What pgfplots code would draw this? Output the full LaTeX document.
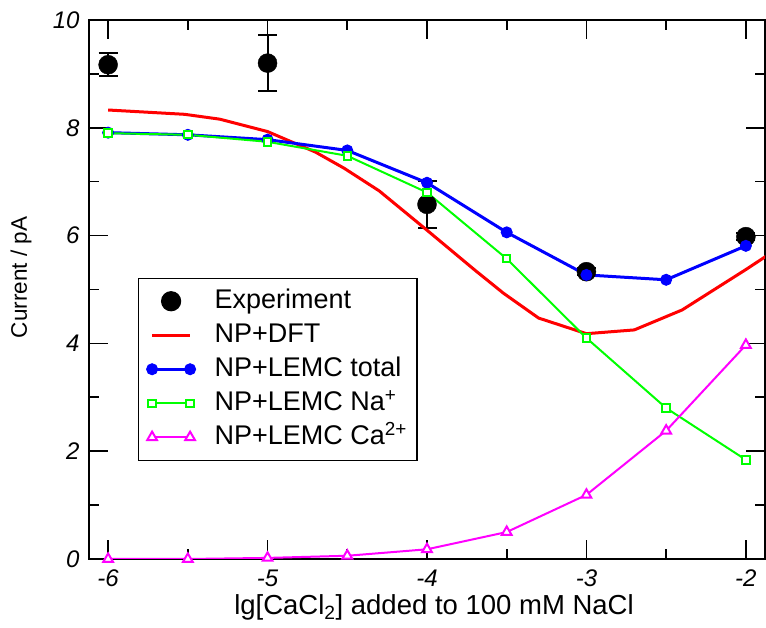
\documentclass[border=0pt]{standalone}
\usepackage{fontspec}
\setmainfont{Liberation Sans}
\usepackage{pgfplots}
\pgfplotsset{compat=1.18}
\definecolor{cGreen}{RGB}{0,255,0}
\definecolor{cMag}{RGB}{255,0,255}
\definecolor{cBlue}{RGB}{0,0,255}
\definecolor{cRed}{RGB}{255,0,0}
\pgfplotsset{
  legdot/.style={legend image code/.code={\draw[##1] plot coordinates {(24pt,0pt)};}},
  legbar/.style={legend image code/.code={\draw[##1, line width=3pt] (5pt,0pt) -- (43pt,0pt);}},
  legboth/.style={legend image code/.code={\draw[##1] plot coordinates {(5pt,0pt) (43pt,0pt)};}},
}

\begin{document}
\begin{tikzpicture}
\begin{axis}[
    scale only axis, width=676pt, height=539pt,
    xmin=-6.12, xmax=-1.88, ymin=0, ymax=10,
    xtick={-6,-5,-4,-3,-2}, ytick={0,2,4,6,8,10},
    minor x tick num=1, minor y tick num=1,
    tick align=inside, major tick length=19pt, minor tick length=10pt,
    every tick/.style={black, line width=1.6pt},
    axis line style={line width=1.6pt},
    /pgf/number format/assume math mode=true,
    ticklabel style={font=\fontsize{24}{28}\selectfont\itshape},
    xticklabel style={anchor=base, inner sep=0pt, yshift=-28pt},
    yticklabel style={anchor=east, xshift=-6pt},
    xlabel={lg[CaCl\textsubscript{2}] added to 100 mM NaCl},
    ylabel={Current / pA},
    xlabel style={font=\fontsize{27.5}{32}\selectfont, inner sep=0pt, at={(axis description cs:0.5,0)}, anchor=base, yshift=-56pt, xshift=7pt},
    ylabel style={font=\fontsize{22.5}{26}\selectfont, at={(axis description cs:0,0.5)}, anchor=center, yshift=68pt, xshift=12pt},
    legend style={at={(rel axis cs:0.0725,0.522)}, anchor=north west, draw=black, line width=1.2pt, fill=white,
                  font=\fontsize{27}{32}\selectfont, inner xsep=8pt, inner ysep=8pt, row sep=4pt,
                  nodes={inner sep=2pt, text height=20pt, text depth=6pt},
                  /tikz/every odd column/.append style={column sep=17pt}},
    legend cell align=left,
]
\coordinate (bl) at (rel axis cs:0,0);
\coordinate (tr) at (rel axis cs:1,1);

% experiment
\addplot[only marks, mark=*, mark size=9.5pt, black, legdot,
    error bars/.cd, y dir=both, y explicit,
    error bar style={line width=2pt, black},
    error mark options={rotate=90, mark size=9.5pt, line width=2pt, black},
    ] coordinates {
    (-6,9.17) +- (0,0.21)
    (-5,9.20) +- (0,0.52)
    (-4,6.58) +- (0,0.43)
    (-3,5.33) +- (0,0.06)
    (-2,5.98) +- (0,0.06)
};
\addlegendentry{Experiment}

% DFT
\addplot[cRed, line width=3pt, no marks, legbar]
coordinates {
    (-6,8.33) (-5.52,8.25) (-5.3,8.16) (-5,7.93) (-4.7,7.55) (-4.52,7.25)
    (-4.3,6.83) (-4,6.10) (-3.7,5.36) (-3.52,4.93) (-3.3,4.47) (-3,4.18)
    (-2.7,4.25) (-2.4,4.62) (-2,5.37) (-1.8,5.76)
};
\addlegendentry{NP+DFT}

% LEMC total
\addplot[cBlue, line width=3pt, mark=*, mark size=5.5pt, mark options={line width=1pt}, legboth]
coordinates {
    (-6,7.91) (-5.5,7.87) (-5,7.78) (-4.5,7.58) (-4,6.98)
    (-3.5,6.06) (-3,5.27) (-2.5,5.18) (-2,5.81)
};
\addlegendentry{NP+LEMC total}

% LEMC Na
\addplot[cGreen, line width=2pt, mark=square*, mark size=3.7pt, mark options={fill=white}, legboth]
coordinates {
    (-6,7.90) (-5.5,7.87) (-5,7.74) (-4.5,7.48) (-4,6.80)
    (-3.5,5.57) (-3,4.10) (-2.5,2.80) (-2,1.84)
};
\addlegendentry{NP+LEMC Na\textsuperscript{+}}

% LEMC Ca
\addplot[cMag, line width=2pt, mark=triangle*, mark size=5.6pt, mark options={fill=white}, legboth]
coordinates {
    (-6,0.0) (-5.5,0.0) (-5,0.02) (-4.5,0.06) (-4,0.18)
    (-3.5,0.50) (-3,1.19) (-2.5,2.38) (-2,3.97)
};
\addlegendentry{NP+LEMC Ca\textsuperscript{2+}}
\end{axis}
\path ([shift={(-89pt,-69pt)}]bl) rectangle ([shift={(1pt,20pt)}]tr);
\end{tikzpicture}
\end{document}
